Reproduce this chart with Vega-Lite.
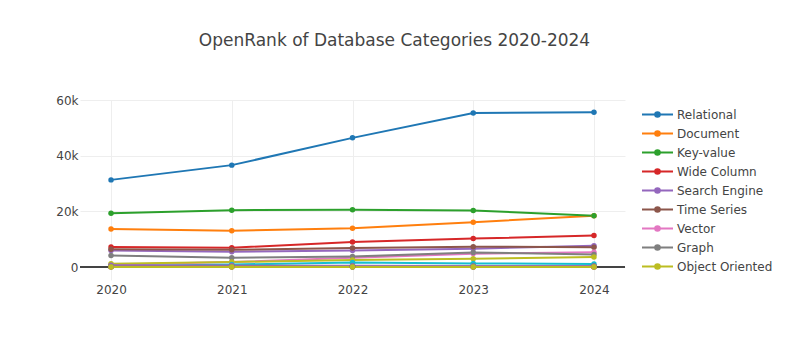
{
  "$schema": "https://vega.github.io/schema/vega-lite/v6.json",
  "width": 545,
  "height": 180,
  "autosize": {"type": "none"},
  "padding": {"left": 80, "top": 100, "right": 164, "bottom": 80},
  "background": "white",
  "title": {
    "text": "OpenRank of Database Categories 2020-2024",
    "font": "DejaVu Sans",
    "fontSize": 17,
    "fontWeight": "normal",
    "color": "#444",
    "anchor": "middle",
    "dx": 42,
    "baseline": "alphabetic",
    "offset": 31
  },
  "config": {
    "view": {"stroke": null},
    "font": "DejaVu Sans"
  },
  "datasets": {
    "rows": [
      {"category": "Relational", "year": 2020, "value": 31300},
      {"category": "Relational", "year": 2021, "value": 36600},
      {"category": "Relational", "year": 2022, "value": 46400},
      {"category": "Relational", "year": 2023, "value": 55300},
      {"category": "Relational", "year": 2024, "value": 55600},
      {"category": "Document", "year": 2020, "value": 13650},
      {"category": "Document", "year": 2021, "value": 13000},
      {"category": "Document", "year": 2022, "value": 13900},
      {"category": "Document", "year": 2023, "value": 16100},
      {"category": "Document", "year": 2024, "value": 18400},
      {"category": "Key-value", "year": 2020, "value": 19300},
      {"category": "Key-value", "year": 2021, "value": 20400},
      {"category": "Key-value", "year": 2022, "value": 20600},
      {"category": "Key-value", "year": 2023, "value": 20300},
      {"category": "Key-value", "year": 2024, "value": 18400},
      {"category": "Wide Column", "year": 2020, "value": 7200},
      {"category": "Wide Column", "year": 2021, "value": 6900},
      {"category": "Wide Column", "year": 2022, "value": 9000},
      {"category": "Wide Column", "year": 2023, "value": 10200},
      {"category": "Wide Column", "year": 2024, "value": 11300},
      {"category": "Search Engine", "year": 2020, "value": 5900},
      {"category": "Search Engine", "year": 2021, "value": 5500},
      {"category": "Search Engine", "year": 2022, "value": 5900},
      {"category": "Search Engine", "year": 2023, "value": 6600},
      {"category": "Search Engine", "year": 2024, "value": 7600},
      {"category": "Time Series", "year": 2020, "value": 6400},
      {"category": "Time Series", "year": 2021, "value": 6200},
      {"category": "Time Series", "year": 2022, "value": 6800},
      {"category": "Time Series", "year": 2023, "value": 7300},
      {"category": "Time Series", "year": 2024, "value": 7100},
      {"category": "Vector", "year": 2020, "value": 800},
      {"category": "Vector", "year": 2021, "value": 1800},
      {"category": "Vector", "year": 2022, "value": 3300},
      {"category": "Vector", "year": 2023, "value": 4800},
      {"category": "Vector", "year": 2024, "value": 5300},
      {"category": "Graph", "year": 2020, "value": 4100},
      {"category": "Graph", "year": 2021, "value": 3300},
      {"category": "Graph", "year": 2022, "value": 3800},
      {"category": "Graph", "year": 2023, "value": 5200},
      {"category": "Graph", "year": 2024, "value": 4500},
      {"category": "Object Oriented", "year": 2020, "value": 1200},
      {"category": "Object Oriented", "year": 2021, "value": 1800},
      {"category": "Object Oriented", "year": 2022, "value": 2500},
      {"category": "Object Oriented", "year": 2023, "value": 3000},
      {"category": "Object Oriented", "year": 2024, "value": 3600},
      {"category": "Spatial", "year": 2020, "value": 300},
      {"category": "Spatial", "year": 2021, "value": 900},
      {"category": "Spatial", "year": 2022, "value": 1600},
      {"category": "Spatial", "year": 2023, "value": 1300},
      {"category": "Spatial", "year": 2024, "value": 1100},
      {"category": "Multivalue", "year": 2020, "value": 200},
      {"category": "Multivalue", "year": 2021, "value": 200},
      {"category": "Multivalue", "year": 2022, "value": 250},
      {"category": "Multivalue", "year": 2023, "value": 250},
      {"category": "Multivalue", "year": 2024, "value": 250},
      {"category": "Native XML", "year": 2020, "value": 150},
      {"category": "Native XML", "year": 2021, "value": 150},
      {"category": "Native XML", "year": 2022, "value": 150},
      {"category": "Native XML", "year": 2023, "value": 150},
      {"category": "Native XML", "year": 2024, "value": 150},
      {"category": "RDF", "year": 2020, "value": 400},
      {"category": "RDF", "year": 2021, "value": 350},
      {"category": "RDF", "year": 2022, "value": 350},
      {"category": "RDF", "year": 2023, "value": 300},
      {"category": "RDF", "year": 2024, "value": 300},
      {"category": "Event Store", "year": 2020, "value": 50},
      {"category": "Event Store", "year": 2021, "value": 60},
      {"category": "Event Store", "year": 2022, "value": 70},
      {"category": "Event Store", "year": 2023, "value": 70},
      {"category": "Event Store", "year": 2024, "value": 80},
      {"category": "Content", "year": 2020, "value": 600},
      {"category": "Content", "year": 2021, "value": 500},
      {"category": "Content", "year": 2022, "value": 450},
      {"category": "Content", "year": 2023, "value": 400},
      {"category": "Content", "year": 2024, "value": 350},
      {"category": "Navigational", "year": 2020, "value": 50},
      {"category": "Navigational", "year": 2021, "value": 50},
      {"category": "Navigational", "year": 2022, "value": 40},
      {"category": "Navigational", "year": 2023, "value": 40},
      {"category": "Navigational", "year": 2024, "value": 40},
      {"category": "Columnar", "year": 2020, "value": 100},
      {"category": "Columnar", "year": 2021, "value": 100},
      {"category": "Columnar", "year": 2022, "value": 120},
      {"category": "Columnar", "year": 2023, "value": 120},
      {"category": "Columnar", "year": 2024, "value": 130},
      {"category": "Object-relational", "year": 2020, "value": 100},
      {"category": "Object-relational", "year": 2021, "value": 90},
      {"category": "Object-relational", "year": 2022, "value": 90},
      {"category": "Object-relational", "year": 2023, "value": 80},
      {"category": "Object-relational", "year": 2024, "value": 80},
      {"category": "Multi-model", "year": 2020, "value": 20},
      {"category": "Multi-model", "year": 2021, "value": 20},
      {"category": "Multi-model", "year": 2022, "value": 20},
      {"category": "Multi-model", "year": 2023, "value": 20},
      {"category": "Multi-model", "year": 2024, "value": 20}
    ]
  },
  "data": {"name": "rows"},
  "layer": [
    {
      "mark": {"type": "rule", "color": "#444", "strokeWidth": 1},
      "encoding": {"y": {"datum": 0}}
    },
    {
      "mark": {"type": "line", "strokeWidth": 2, "point": {"filled": true, "size": 30, "opacity": 1}},
      "encoding": {
        "x": {
          "field": "year",
          "type": "quantitative",
          "scale": {"domain": [2019.743, 2024.257], "nice": false, "zero": false},
          "axis": {
            "title": null,
            "values": [2020, 2021, 2022, 2023, 2024],
            "format": "d",
            "domain": false,
            "ticks": false,
            "grid": true,
            "gridColor": "#eeeeee",
            "gridWidth": 1,
            "labelFont": "DejaVu Sans",
            "labelFontSize": 12,
            "labelColor": "#444",
            "labelPadding": 4
          }
        },
        "y": {
          "field": "value",
          "type": "quantitative",
          "scale": {"domain": [-4670, 60000], "nice": false, "zero": false},
          "axis": {
            "title": null,
            "values": [0, 20000, 40000, 60000],
            "labelExpr": "datum.value === 0 ? '0' : format(datum.value, '~s')",
            "domain": false,
            "ticks": false,
            "grid": true,
            "gridColor": "#eeeeee",
            "gridWidth": 1,
            "labelFont": "DejaVu Sans",
            "labelFontSize": 12,
            "labelColor": "#444",
            "labelPadding": 2
          }
        },
        "color": {
          "field": "category",
          "type": "nominal",
          "sort": null,
          "scale": {
            "domain": ["Relational", "Document", "Key-value", "Wide Column", "Search Engine", "Time Series", "Vector", "Graph", "Object Oriented", "Spatial", "Multivalue", "Native XML", "RDF", "Event Store", "Content", "Navigational", "Columnar", "Object-relational", "Multi-model"],
            "range": ["#1f77b4", "#ff7f0e", "#2ca02c", "#d62728", "#9467bd", "#8c564b", "#e377c2", "#7f7f7f", "#bcbd22", "#17becf", "#1f77b4", "#ff7f0e", "#2ca02c", "#d62728", "#9467bd", "#8c564b", "#e377c2", "#7f7f7f", "#bcbd22"]
          },
          "legend": {
            "title": null,
            "orient": "none",
            "legendX": 571,
            "legendY": 8,
            "values": ["Relational", "Document", "Key-value", "Wide Column", "Search Engine", "Time Series", "Vector", "Graph", "Object Oriented"],
            "symbolType": "M-3,0H3M-0.45,0A0.45,0.45,0,1,1,0.45,0A0.45,0.45,0,1,1,-0.45,0Z",
            "symbolSize": 107,
            "symbolStrokeWidth": 2,
            "labelFont": "DejaVu Sans",
            "labelFontSize": 12,
            "labelColor": "#444",
            "labelOffset": 13,
            "rowPadding": 6,
            "padding": 0,
            "encode": {
              "symbols": {
                "update": {
                  "fill": {"scale": "color", "field": "value"},
                  "stroke": {"scale": "color", "field": "value"},
                  "opacity": {"value": 1}
                }
              }
            }
          }
        },
        "order": {"field": "year", "type": "quantitative"}
      }
    }
  ]
}
